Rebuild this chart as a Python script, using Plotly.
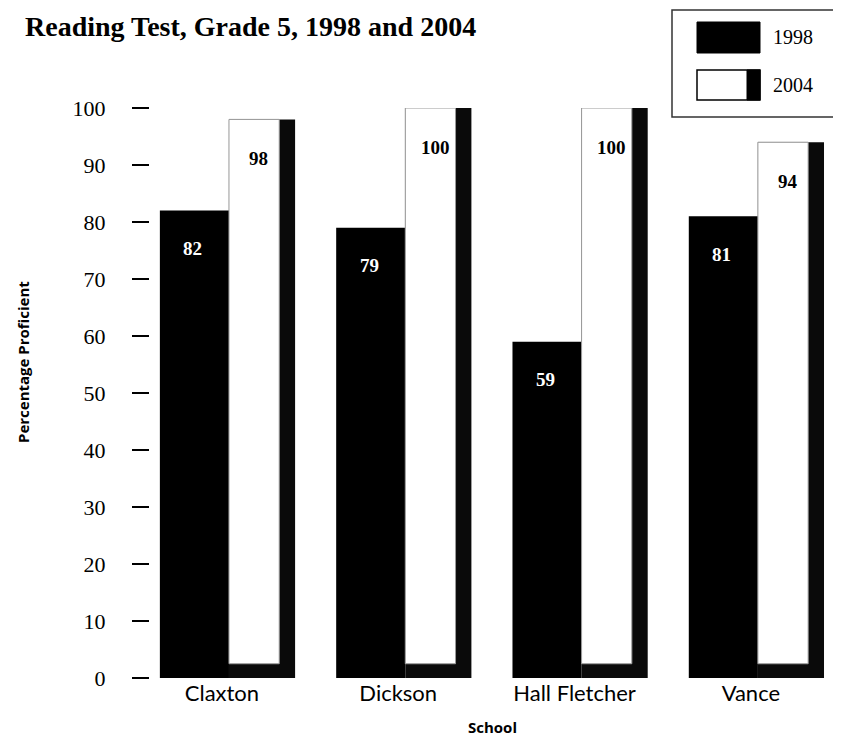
import plotly.graph_objects as go

# ---- data ----
schools = ["Claxton", "Dickson", "Hall Fletcher", "Vance"]
values_1998 = [82, 79, 59, 81]
values_2004 = [98, 100, 100, 94]
y_ticks = [0, 10, 20, 30, 40, 50, 60, 70, 80, 90, 100]
series_names = ["1998", "2004"]
title_text = "Reading Test, Grade 5, 1998 and 2004"
y_title = "Percentage Proficient"
x_title = "School"

# ---- layout geometry ----
# the page has an 8px body margin, so figure coords = page coords - 8
OFF = 8
W, H = 841 - OFF, 740 - OFF
L = 150 - OFF
T = 108 - OFF
PLOT_BOTTOM = 678 - OFF
PLOT_RIGHT = 839 - OFF
B = H - PLOT_BOTTOM
R = W - PLOT_RIGHT
PW, PH = W - L - R, H - T - B


def pxx(x_page):
    return (x_page - OFF - L) / PW


def pxy(y_page):
    return (PLOT_BOTTOM - (y_page - OFF)) / PH


SERIF = "Liberation Serif"
SANS = "Open Sans"
BASE_GAP = 2.5  # depth of the dark 3D floor under the 2004 face

fig = go.Figure()

# 1998 bars (solid black)
fig.add_trace(go.Bar(
    x=schools, y=values_1998, name=series_names[0],
    offset=-0.352, width=0.392,
    marker=dict(color="black", line=dict(width=0)),
    hoverinfo="skip",
))
# 2004 bars: dark 3D body (side + floor)
fig.add_trace(go.Bar(
    x=schools, y=values_2004, name=series_names[1] + " side",
    offset=0.04, width=0.375,
    marker=dict(color="#0a0a0a", line=dict(width=0)),
    hoverinfo="skip", showlegend=False,
))
# 2004 bars: white front face
fig.add_trace(go.Bar(
    x=schools, y=[v - BASE_GAP for v in values_2004], base=[BASE_GAP] * len(values_2004),
    name=series_names[1],
    offset=0.04, width=0.285,
    marker=dict(color="white", line=dict(width=1, color="#9a9a9a")),
    hoverinfo="skip",
))

annotations = []
# value labels
for s, v in zip(schools, values_1998):
    annotations.append(dict(
        x=s, y=v, xref="x", yref="y", text=str(v), showarrow=False,
        xshift=-29, yshift=-38, yanchor="middle",
        font=dict(family=SERIF, size=19, color="white", weight="bold"),
    ))
for s, v in zip(schools, values_2004):
    annotations.append(dict(
        x=s, y=v, xref="x", yref="y", text=str(v), showarrow=False,
        xshift=37, yshift=-39, yanchor="middle",
        font=dict(family=SERIF, size=19, color="black", weight="bold"),
    ))

# axis titles
annotations.append(dict(
    x=pxx(23), y=pxy(362), xref="paper", yref="paper", text=y_title,
    showarrow=False, textangle=-90, xanchor="center", yanchor="middle",
    font=dict(family=SANS, size=15, color="black", weight="bold"),
))
annotations.append(dict(
    x=pxx(492), y=pxy(727), xref="paper", yref="paper", text=x_title,
    showarrow=False, xanchor="center", yanchor="middle",
    font=dict(family=SANS, size=15, color="black", weight="bold"),
))

# legend (drawn manually to mimic the large swatches)
shapes = [
    dict(type="rect", xref="paper", yref="paper",
         x0=pxx(672), x1=pxx(845), y0=pxy(117), y1=pxy(10),
         line=dict(color="#333333", width=1.5), fillcolor="white"),
    dict(type="rect", xref="paper", yref="paper",
         x0=pxx(697), x1=pxx(760), y0=pxy(53), y1=pxy(22),
         line=dict(color="black", width=1), fillcolor="black"),
    dict(type="rect", xref="paper", yref="paper",
         x0=pxx(697), x1=pxx(760), y0=pxy(100), y1=pxy(70),
         line=dict(color="black", width=1.5), fillcolor="white"),
    dict(type="rect", xref="paper", yref="paper",
         x0=pxx(747), x1=pxx(760), y0=pxy(100), y1=pxy(70),
         line=dict(color="black", width=1), fillcolor="black"),
]
annotations.append(dict(
    x=pxx(771), y=pxy(37), xref="paper", yref="paper", text=series_names[0],
    showarrow=False, xanchor="left", yanchor="middle",
    font=dict(family=SERIF, size=20, color="black"),
))
annotations.append(dict(
    x=pxx(771), y=pxy(85), xref="paper", yref="paper", text=series_names[1],
    showarrow=False, xanchor="left", yanchor="middle",
    font=dict(family=SERIF, size=20, color="black"),
))

fig.update_layout(
    width=W, height=H,
    margin=dict(l=L, r=R, t=T, b=B),
    paper_bgcolor="white", plot_bgcolor="white",
    barmode="overlay",
    showlegend=False,
    title=dict(
        text="<b>" + title_text + "</b>",
        xref="container", yref="container",
        x=(25 - OFF) / W, xanchor="left",
        y=1.0 - 8 / H, yanchor="top",
        pad=dict(t=0, b=0, l=0, r=0),
        font=dict(family=SERIF, size=28, color="black"),
    ),
    xaxis=dict(
        type="category", categoryorder="array", categoryarray=schools,
        range=[-0.408, 3.5],
        showgrid=False, showline=False, zeroline=False, ticks="",
        tickfont=dict(family="Lato", size=22, color="black"),
    ),
    yaxis=dict(
        range=[0, 100], tickvals=y_ticks, ticktext=[str(t) for t in y_ticks],
        showgrid=False, showline=False, zeroline=False,
        ticks="outside", ticklen=17, tickwidth=2, tickcolor="black",
        ticklabelstandoff=22,
        tickfont=dict(family=SERIF, size=22, color="black"),
    ),
    shapes=shapes,
    annotations=annotations,
)

fig.write_html("out.html")
